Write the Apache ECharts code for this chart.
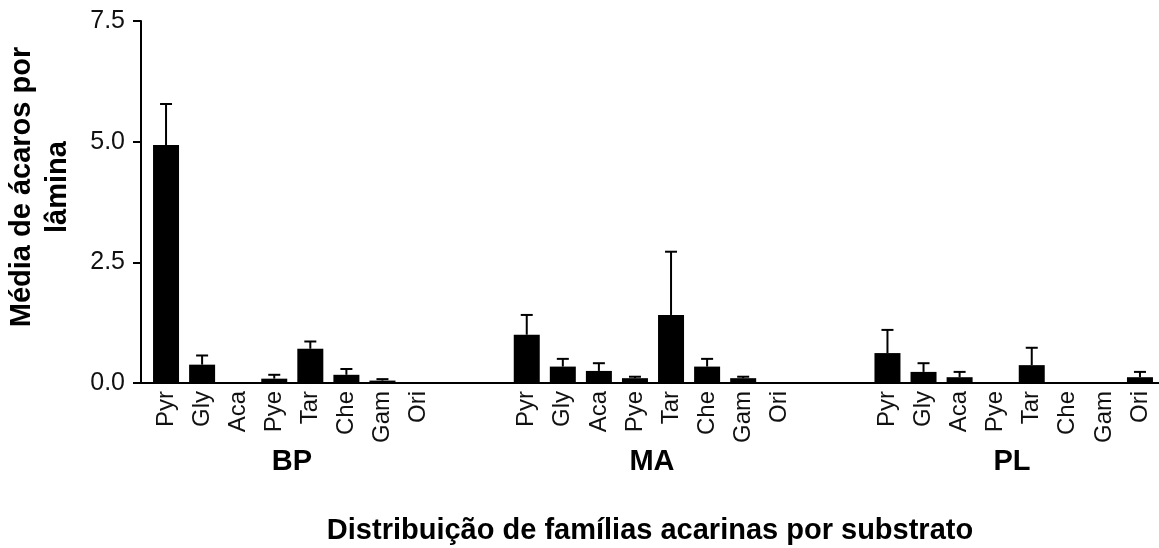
<!DOCTYPE html>
<html>
<head>
<meta charset="utf-8">
<script src="https://cdn.jsdelivr.net/npm/echarts@6/dist/echarts.min.js"></script>
<style>
  html, body { margin: 0; padding: 0; background: #fff; }
  #chart { width: 1159px; height: 548px; }
</style>
</head>
<body>
<div id="chart"></div>
<script>
const families = ["Pyr", "Gly", "Aca", "Pye", "Tar", "Che", "Gam", "Ori"];
const groups = ["BP", "MA", "PL"];
// média de ácaros por lâmina, por substrato
const meanBP = [4.93, 0.38, 0, 0.09, 0.71, 0.17, 0.05, 0];
const meanMA = [1.0, 0.34, 0.25, 0.1, 1.41, 0.34, 0.1, 0];
const meanPL = [0.62, 0.23, 0.12, 0, 0.37, 0, 0, 0.12];
// erro padrão (barra de erro superior)
const errBP = [0.85, 0.19, 0, 0.08, 0.15, 0.12, 0.03, 0];
const errMA = [0.41, 0.16, 0.16, 0.03, 1.31, 0.16, 0.03, 0];
const errPL = [0.48, 0.18, 0.11, 0, 0.36, 0, 0, 0.11];
const yTicks = [0, 2.5, 5.0, 7.5];
const gapSlots = 2; // categorias vazias entre grupos

const means = [meanBP, meanMA, meanPL];
const errs = [errBP, errMA, errPL];

// monta o eixo de categorias com os espaços entre grupos
const categories = [];
const barData = [];
const errData = [];
groups.forEach((g, gi) => {
  families.forEach((f, fi) => {
    categories.push(f);
    barData.push(means[gi][fi]);
    errData.push([categories.length - 1, means[gi][fi], errs[gi][fi]]);
  });
  if (gi < groups.length - 1) {
    for (let k = 0; k < gapSlots; k++) {
      categories.push("");
      barData.push(null);
    }
  }
});

const chart = echarts.init(document.getElementById("chart"));

const labelFont = "'Liberation Sans', Arial, sans-serif";

const option = {
  animation: false,
  backgroundColor: "#fff",
  grid: [
    // eixos visíveis
    { left: 141, right: 0, top: 21, bottom: 165, outerBoundsMode: "none" },
    // barras
    { left: 148, right: 1, top: 21, bottom: 165, outerBoundsMode: "none" },
    // rótulos dos grupos
    { left: 112, width: 1080, top: 21, bottom: 165, outerBoundsMode: "none" },
  ],
  xAxis: [
    {
      gridIndex: 0,
      type: "value",
      min: 0,
      max: 1,
      axisLine: { show: true, lineStyle: { color: "#000", width: 2 } },
      axisTick: { show: false },
      axisLabel: { show: false },
      splitLine: { show: false },
      name: "Distribuição de famílias acarinas por substrato",
      nameLocation: "middle",
      nameGap: 133,
      nameTextStyle: {
        fontFamily: labelFont,
        fontWeight: "bold",
        fontSize: 29,
        color: "#000",
      },
    },
    {
      gridIndex: 1,
      type: "category",
      data: categories,
      axisLine: { show: false },
      axisTick: { show: false },
      axisLabel: {
        interval: 0,
        rotate: 90,
        margin: 8,
        fontFamily: labelFont,
        fontSize: 24,
        color: "#111",
      },
    },
    {
      gridIndex: 2,
      type: "category",
      data: groups,
      axisLine: { show: false },
      axisTick: { show: false },
      axisLabel: {
        interval: 0,
        margin: 64,
        fontFamily: labelFont,
        fontWeight: "bold",
        fontSize: 29,
        color: "#000",
      },
    },
  ],
  yAxis: [
    {
      gridIndex: 0,
      type: "value",
      min: yTicks[0],
      max: yTicks[yTicks.length - 1],
      interval: yTicks[1] - yTicks[0],
      axisLine: { show: true, lineStyle: { color: "#000", width: 2 } },
      axisTick: { show: true, length: 8, lineStyle: { color: "#000", width: 2 } },
      axisLabel: {
        margin: 16,
        fontFamily: labelFont,
        fontSize: 25,
        color: "#111",
        formatter: (v) => v.toFixed(1),
      },
      splitLine: { show: false },
      name: "Média de ácaros por\nlâmina",
      nameLocation: "middle",
      nameRotate: 90,
      nameGap: 65,
      nameTextStyle: {
        fontFamily: labelFont,
        fontWeight: "bold",
        fontSize: 29,
        lineHeight: 36,
        color: "#000",
        align: "center",
        padding: [0, 0, 0, 30],
      },
    },
    {
      gridIndex: 1,
      type: "value",
      min: yTicks[0],
      max: yTicks[yTicks.length - 1],
      show: false,
    },
    {
      gridIndex: 2,
      type: "value",
      show: false,
    },
  ],
  series: [
    {
      type: "bar",
      xAxisIndex: 1,
      yAxisIndex: 1,
      data: barData,
      barWidth: 26,
      itemStyle: { color: "#000" },
    },
    {
      // barras de erro
      type: "custom",
      xAxisIndex: 1,
      yAxisIndex: 1,
      data: errData,
      z: 3,
      renderItem: function (params, api) {
        const err = api.value(2);
        if (!err) return null;
        const base = api.coord([api.value(0), api.value(1)]);
        const top = api.coord([api.value(0), api.value(1) + err]);
        const style = { stroke: "#000", lineWidth: 2 };
        return {
          type: "group",
          children: [
            { type: "line", shape: { x1: base[0], y1: base[1], x2: top[0], y2: top[1] }, style },
            { type: "line", shape: { x1: top[0] - 6, y1: top[1], x2: top[0] + 6, y2: top[1] }, style },
          ],
        };
      },
    },
  ],
};

chart.setOption(option);
</script>
</body>
</html>
